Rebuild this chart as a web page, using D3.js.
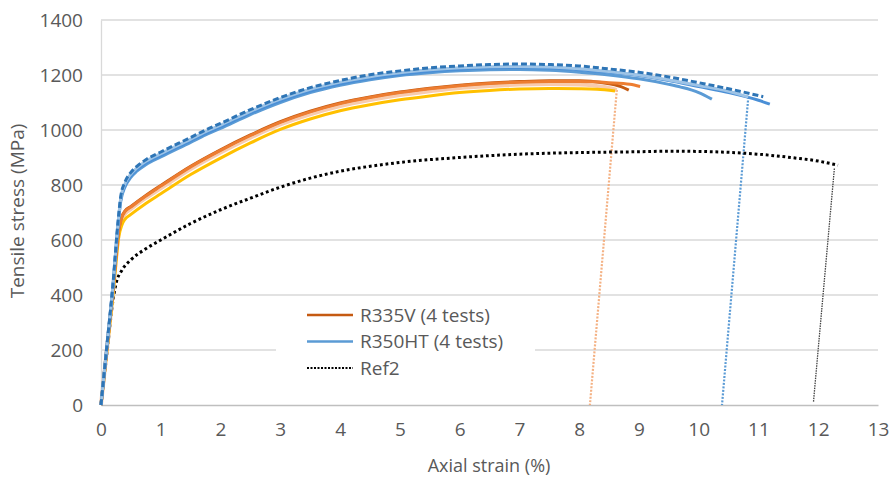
<!DOCTYPE html>
<meta charset="utf-8">
<script src="https://d3js.org/d3.v7.min.js"></script>
<style>
  body { margin: 0; background: #fff; }
  text { font-family: "Open Sans", sans-serif; fill: #595959; }
</style>
<div id="chart"></div>
<script>

// strain (%) / stress (MPa) pairs
var r335v_dark = [[0,0],[0.1,210],[0.2,420],[0.3,640],[0.35,685],[0.4,705],[0.5,722],[0.75,762],[1,798],[1.5,868],[2,928],[2.5,982],[3,1030],[3.5,1068],[4,1098],[4.5,1120],[5,1138],[5.5,1152],[6,1163],[6.5,1171],[7,1176],[7.5,1179],[8,1179],[8.4,1172],[8.7,1158],[8.83,1145]];
var r335v_orange = [[0,0],[0.1,210],[0.2,420],[0.3,640],[0.35,684],[0.4,703],[0.5,720],[0.75,760],[1,796],[1.5,866],[2,926],[2.5,980],[3,1028],[3.5,1066],[4,1096],[4.5,1118],[5,1136],[5.5,1150],[6,1161],[6.5,1169],[7,1174],[7.5,1176],[8,1176],[8.5,1172],[8.85,1166],[9.02,1158]];
var r335v_peach = [[0,0],[0.1,205],[0.2,410],[0.3,630],[0.35,675],[0.4,695],[0.5,713],[0.75,753],[1,788],[1.5,858],[2,918],[2.5,972],[3,1020],[3.5,1057],[4,1087],[4.5,1109],[5,1127],[5.5,1141],[6,1153],[6.5,1160],[7,1165],[7.5,1167],[8,1165],[8.4,1157],[8.63,1146]];
var r335v_yellow = [[0,0],[0.1,200],[0.2,400],[0.3,615],[0.35,655],[0.4,675],[0.5,693],[0.75,733],[1,768],[1.5,838],[2,898],[2.5,953],[3,1002],[3.5,1040],[4,1070],[4.5,1092],[5,1110],[5.5,1124],[6,1136],[6.5,1144],[7,1149],[7.5,1151],[8,1150],[8.3,1148],[8.6,1142]];

var r350ht_a = [[0,0],[0.1,215],[0.2,430],[0.28,640],[0.33,740],[0.4,792],[0.5,828],[0.6,850],[0.75,874],[1,902],[1.5,955],[1.75,982],[2,1006],[2.5,1056],[3,1100],[3.5,1136],[4,1163],[4.5,1183],[5,1198],[5.5,1208],[6,1215],[6.5,1219],[7,1220],[7.5,1217],[8,1210],[8.5,1200],[9,1186],[9.5,1166],[9.7,1156],[10,1136],[10.22,1112]];
var r350ht_light = [[0,0],[0.1,218],[0.2,436],[0.28,650],[0.33,752],[0.4,804],[0.5,840],[0.6,862],[0.75,886],[1,914],[1.5,967],[1.75,994],[2,1018],[2.5,1068],[3,1112],[3.5,1148],[4,1174],[4.5,1194],[5,1208],[5.5,1219],[6,1226],[6.5,1230],[7,1231],[7.5,1229],[8,1223],[8.5,1213],[9,1200],[9.5,1182],[10,1162],[10.5,1141],[10.83,1120]];
var r350ht_dash = [[0,0],[0.1,220],[0.2,440],[0.28,655],[0.33,758],[0.4,810],[0.5,846],[0.6,868],[0.75,892],[1,920],[1.5,973],[1.75,1000],[2,1024],[2.5,1074],[3,1118],[3.5,1154],[4,1180],[4.5,1201],[5,1215],[5.5,1226],[6,1233],[6.5,1238],[7,1240],[7.5,1238],[8,1233],[8.5,1222],[9,1210],[9.5,1193],[10,1172],[10.5,1150],[11.08,1121]];
var r350ht_b = [[0,0],[0.1,216],[0.2,432],[0.28,645],[0.33,746],[0.4,798],[0.5,834],[0.6,856],[0.75,880],[1,908],[1.5,961],[1.75,988],[2,1012],[2.5,1062],[3,1106],[3.5,1142],[4,1168],[4.5,1188],[5,1203],[5.5,1214],[6,1221],[6.5,1226],[7,1227],[7.5,1225],[8,1219],[8.5,1210],[9,1198],[9.5,1180],[10,1158],[10.5,1136],[11,1108],[11.19,1094]];

var ref2 = [[0,0],[0.1,190],[0.2,380],[0.25,440],[0.35,490],[0.5,528],[0.75,568],[1,600],[1.5,660],[2,710],[2.5,752],[3,792],[3.5,825],[4,850],[4.67,873],[5,882],[6,900],[7,912],[8,918],[9,921],[9.5,923],[10,922],[10.74,916],[11.2,908],[11.58,899],[12,887],[12.33,872]];

// unloading lines
var unload_r335v = [[8.63,1146],[8.18,0]];
var unload_r350ht = [[10.83,1120],[10.39,0]];
var unload_ref2 = [[12.27,860],[11.92,10]];

var xTicks = [0,1,2,3,4,5,6,7,8,9,10,11,12,13];
var yTicks = [0,200,400,600,800,1000,1200,1400];

var legendNames = ["R335V (4 tests)", "R350HT (4 tests)", "Ref2"];

var W = 890, H = 477;
var margin = {top: 20, right: 12, bottom: 72, left: 101};
var width = W - margin.left - margin.right,
    height = H - margin.top - margin.bottom;

var svg = d3.select("#chart").append("svg")
    .attr("width", W).attr("height", H);
var g = svg.append("g")
    .attr("transform", "translate(" + margin.left + "," + margin.top + ")");

var x = d3.scaleLinear().domain([0, 13]).range([0, width]);
var y = d3.scaleLinear().domain([0, 1400]).range([height, 0]);

// gridlines
g.append("g").selectAll("line")
  .data(yTicks.slice(1))
  .enter().append("line")
    .attr("x1", 0).attr("x2", width)
    .attr("y1", function(d) { return y(d); })
    .attr("y2", function(d) { return y(d); })
    .attr("stroke", "#d9d9d9").attr("stroke-width", 1.3);

// axes
var xAxis = g.append("g")
  .attr("transform", "translate(0," + height + ")")
  .call(d3.axisBottom(x).tickValues(xTicks).tickSize(0).tickPadding(18));
xAxis.select(".domain").attr("stroke", "#bfbfbf").attr("stroke-width", 1.3);
xAxis.selectAll("text").style("font-size", "19px").attr("fill", "#595959");

var yAxis = g.append("g")
  .call(d3.axisLeft(y).tickValues(yTicks).tickFormat(d3.format("d")).tickSize(0).tickPadding(18));
yAxis.select(".domain").attr("stroke", "#d9d9d9").attr("stroke-width", 1.3);
yAxis.selectAll("text").style("font-size", "19px").attr("fill", "#595959");

var line = d3.line()
  .x(function(d) { return x(d[0]); })
  .y(function(d) { return y(d[1]); })
  .curve(d3.curveMonotoneX);
var straight = d3.line()
  .x(function(d) { return x(d[0]); })
  .y(function(d) { return y(d[1]); });

function draw(data, color, w, dash, fn) {
  g.append("path")
    .datum(data)
    .attr("d", fn || line)
    .attr("fill", "none")
    .attr("stroke", color)
    .attr("stroke-width", w)
    .attr("stroke-dasharray", dash || null);
}

// unloading lines first (under curves)
draw(unload_r335v, "#f4b183", 2.2, "2,1.5", straight);
draw(unload_r350ht, "#5b9bd5", 2.2, "2,1.5", straight);
draw(unload_ref2, "#404040", 1.3, "1.5,1", straight);

draw(ref2, "#000", 3, "2.8,2.8");

draw(r335v_peach, "#f8cbad", 4);
draw(r335v_yellow, "#ffc000", 3);
draw(r335v_dark, "#c55a11", 3);
draw(r335v_orange, "#ed7d31", 3);

draw(r350ht_a, "#5b9bd5", 3);
draw(r350ht_b, "#4a8fd6", 3);
draw(r350ht_light, "#9dc3e6", 3);
draw(r350ht_dash, "#2e75b6", 3, "6,3");

// legend
var lg = svg.append("g").attr("transform", "translate(276,300)");
lg.append("rect").attr("width", 259).attr("height", 85).attr("fill", "#fff");
var legendStyles = [
  {color: "#c55a11", w: 2.5, dash: null},
  {color: "#5b9bd5", w: 2.5, dash: null},
  {color: "#000", w: 2, dash: "2,1.5"}
];
legendNames.forEach(function(name, i) {
  var yy = 15 + i * 26.5;
  lg.append("line")
    .attr("x1", 31).attr("x2", 77)
    .attr("y1", yy).attr("y2", yy)
    .attr("stroke", legendStyles[i].color)
    .attr("stroke-width", legendStyles[i].w)
    .attr("stroke-dasharray", legendStyles[i].dash);
  lg.append("text")
    .attr("x", 84).attr("y", yy)
    .attr("dy", "0.35em")
    .style("font-size", "19px")
    .text(name);
});

// axis titles
svg.append("text")
  .attr("transform", "translate(24,211) rotate(-90)")
  .attr("text-anchor", "middle")
  .style("font-size", "19px")
  .text("Tensile stress (MPa)");
svg.append("text")
  .attr("x", 489).attr("y", 472)
  .attr("text-anchor", "middle")
  .style("font-size", "18px")
  .text("Axial strain (%)");

</script>
